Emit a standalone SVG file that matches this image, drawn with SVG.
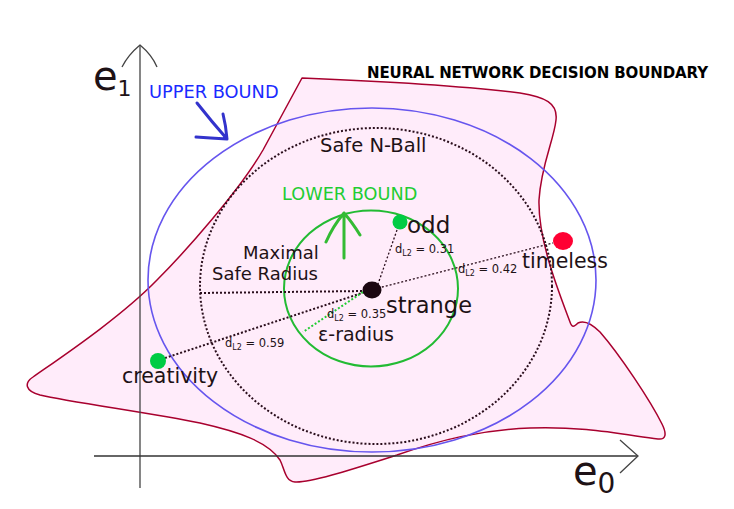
<svg xmlns="http://www.w3.org/2000/svg" width="734" height="509" viewBox="0 0 734 509">
<style>
text{font-family:"DejaVu Sans","Liberation Sans",sans-serif;fill:#1e1216}
.axis{stroke:#444;stroke-width:1.3;fill:none}
.dot2{stroke:#2a0e1c;stroke-width:2;stroke-dasharray:2 2;fill:none}
.dot1{stroke:#2a0e1c;stroke-width:1.3;stroke-dasharray:2 2;fill:none}
.dl{font-size:11.5px}
</style>
<rect width="734" height="509" fill="#fff"/>
<g id="boundary">
<path d="M302,78 C400,82 480,88 520,93 C545,97 558,103 556,120 C554,140 541,165 539,200 C538,240 558,290 570,322 C572,328 574,327 578,323 C584,320 592,324 600,332 C620,355 650,400 662,424 C667,434 666,440 658,439 C620,434 580,426 530,428 C480,430 440,440 397,455 C350,470 310,483 295,482 C285,481 285,470 280,460 C268,442 240,432 200,423 C150,413 70,402 40,395 C25,391 24,383 33,377 C60,358 120,318 157,280 C185,252 240,190 263,150 Z" fill="#ffecfa" stroke="#a8002e" stroke-width="1.5" stroke-linejoin="round"/>
<text x="367" y="78" font-size="15" font-weight="bold" textLength="341" style="fill:#000">NEURAL NETWORK DECISION BOUNDARY</text>
</g>
<g id="axes">
<line class="axis" x1="140" y1="488" x2="140" y2="45"/>
<path class="axis" d="M122,67 Q128,55 140,45 Q152,55 157,67"/>
<line class="axis" x1="94" y1="456" x2="638" y2="456" style="stroke:#333"/>
<path class="axis" d="M620,440 L638,456 L620,473"/>
<text x="93" y="90" font-size="40">e<tspan font-size="22" dy="6">1</tspan></text>
<text x="573" y="485" font-size="40">e<tspan font-size="28" dy="8">0</tspan></text>
</g>
<g id="upper-bound">
<ellipse cx="372" cy="280" rx="224" ry="172" fill="none" stroke="#6655ee" stroke-width="1.6"/>
<text x="149" y="98" font-size="17.8" style="fill:#1a2aff">UPPER BOUND</text>
<path d="M197,103 Q212,122 227,139 M223,114 Q226,126 227,139 Q210,138 196,137" fill="none" stroke="#3333cc" stroke-width="3" stroke-linecap="round" stroke-linejoin="round"/>
</g>
<g id="safe-ball">
<ellipse class="dot2" cx="376" cy="286" rx="176" ry="158"/>
<text x="320" y="152" font-size="19.5">Safe N-Ball</text>
</g>
<g id="lower-bound">
<ellipse cx="371" cy="288.5" rx="87" ry="78" fill="none" stroke="#22bb33" stroke-width="2"/>
<text x="282" y="200" font-size="17.7" style="fill:#22cc33">LOWER BOUND</text>
<path d="M344,258 L344,213 M326,242 Q333,226 344,213 Q352,222 360,235" fill="none" stroke="#33bb33" stroke-width="3" stroke-linecap="round" stroke-linejoin="round"/>
</g>
<g id="connectors">
<line class="dot2" x1="200" y1="293" x2="365" y2="291"/>
<line class="dot2" x1="165" y1="358" x2="365" y2="292"/>
<line class="dot2" x1="363" y1="292" x2="303" y2="332" style="stroke:#22cc33"/>
<line class="dot1" x1="397" y1="230" x2="378" y2="284"/>
<line class="dot1" x1="378" y1="288" x2="553" y2="243"/>
</g>
<g id="maximal">
<text x="243" y="259" font-size="18">Maximal</text>
<text x="212" y="280" font-size="18">Safe Radius</text>
</g>
<g id="strange">
<ellipse cx="372" cy="290" rx="9.5" ry="8.5" fill="#1a0610"/>
<text x="386" y="313" font-size="22.5">strange</text>
<text x="318" y="341" font-size="19">ε-radius</text>
<text class="dl" x="327" y="318">d<tspan font-size="8" dy="3">L2</tspan><tspan dy="-3"> = 0.35</tspan></text>
</g>
<g id="odd">
<circle cx="400" cy="222" r="7.5" fill="#00cc44"/>
<text x="407" y="233" font-size="23">odd</text>
<text class="dl" x="395" y="253">d<tspan font-size="8" dy="3">L2</tspan><tspan dy="-3"> = 0.31</tspan></text>
</g>
<g id="timeless">
<ellipse cx="563" cy="241" rx="10" ry="9" fill="#ff0033"/>
<text x="522" y="268" font-size="20.5">timeless</text>
<text class="dl" x="458" y="273">d<tspan font-size="8" dy="3">L2</tspan><tspan dy="-3"> = 0.42</tspan></text>
</g>
<g id="creativity">
<circle cx="158" cy="361" r="8" fill="#00cc44"/>
<text x="122" y="383" font-size="20.5">creativity</text>
<text class="dl" x="225" y="347">d<tspan font-size="8" dy="3">L2</tspan><tspan dy="-3"> = 0.59</tspan></text>
</g>
</svg>
